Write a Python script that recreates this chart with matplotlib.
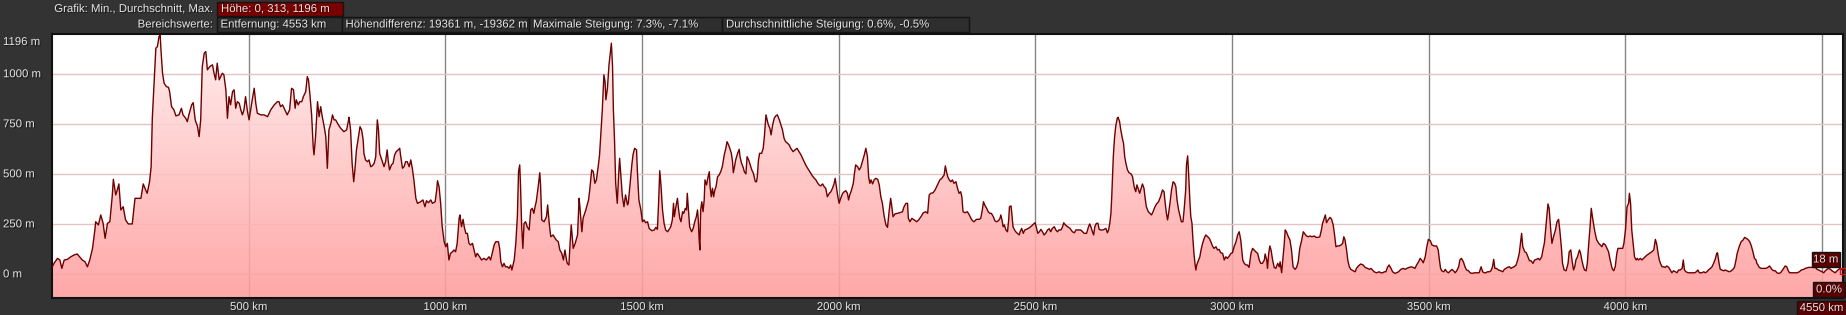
import matplotlib.pyplot as plt
import matplotlib.transforms as mtransforms
import matplotlib.patheffects as pe
from matplotlib.patches import Rectangle
import numpy as np

# elevation profile (km, m) in six pieces
profile_0_750 = [(0,35),(5,55),(14,80),(20,72),(25,30),(31,72),(39,75),(48,88),(56,97),(64,102),(70,88),(77,72),(84,63),(90,38),(96,72),(103,130),(109,222),(111,263),(118,247),(124,297),(130,255),(135,180),(141,255),(147,263),(153,388),(156,475),(162,397),(166,422),(170,452),(175,322),(181,338),(187,272),(194,252),(204,252),(211,380),(217,380),(226,380),(232,452),(238,422),(242,405),(248,463),(252,538),(255,780),(259,938),(264,1130),(268,1138),(272,1188),(275,1196),(277,1122),(281,1005),(285,955),(291,938),(296,935),(299,913),(304,838),(310,822),(315,792),(323,797),(329,830),(333,797),(340,780),(344,763),(348,797),(355,847),(359,858),(364,772),(370,738),(374,688),(378,772),(382,1038),(387,1105),(391,1113),(395,1022),(401,1038),(408,1047),(412,1005),(416,972),(420,1055),(425,972),(429,988),(433,1005),(437,997),(442,922),(446,780),(450,888),(454,847),(459,913),(463,922),(467,830),(471,863),(476,855),(480,822),(484,797),(488,822),(492,888),(497,813),(501,772),(505,822),(509,872),(514,930),(518,855),(522,805),(531,797),(539,797),(548,788),(556,822),(565,847),(573,863),(577,863),(581,838),(586,847),(590,830),(594,813),(598,797),(604,822),(609,930),(614,922),(618,830),(621,872),(626,847),(630,863),(635,863),(639,888),(645,913),(649,988),(652,972),(655,913),(660,797),(664,638),(666,597),(670,688),(675,863),(679,788),(683,838),(687,788),(692,738),(696,688),(700,530),(704,722),(709,755),(713,797),(717,772),(721,772),(728,747),(734,730),(742,713),(749,722),(754,772)]

profile_750_1520 = [(755,785),(759,722),(763,555),(767,463),(770,522),(774,622),(779,688),(783,738),(787,722),(791,672),(793,605),(797,572),(802,563),(806,572),(810,538),(814,542),(819,555),(823,588),(825,688),(827,772),(830,722),(833,605),(837,580),(841,555),(844,538),(848,563),(852,622),(855,563),(858,522),(863,547),(867,555),(871,597),(875,613),(880,622),(884,630),(886,597),(891,530),(895,538),(899,563),(903,563),(908,538),(912,572),(916,530),(920,472),(925,380),(929,355),(937,363),(943,372),(948,338),(952,368),(957,358),(963,372),(967,355),(974,363),(978,422),(980,468),(984,438),(988,355),(992,238),(997,163),(1001,138),(1005,155),(1009,72),(1013,105),(1018,113),(1022,122),(1026,113),(1030,155),(1035,280),(1037,297),(1041,238),(1045,275),(1048,238),(1052,205),(1056,205),(1060,155),(1064,147),(1069,155),(1073,122),(1077,88),(1081,105),(1087,88),(1092,72),(1098,80),(1104,72),(1111,88),(1115,72),(1119,105),(1124,147),(1128,163),(1135,163),(1138,130),(1141,63),(1145,38),(1149,55),(1153,38),(1158,38),(1162,30),(1166,47),(1169,22),(1172,47),(1175,72),(1179,155),(1183,288),(1186,513),(1189,547),(1191,447),(1194,238),(1197,130),(1200,255),(1204,263),(1208,238),(1213,222),(1217,322),(1221,330),(1225,305),(1228,338),(1231,363),(1236,438),(1240,508),(1242,447),(1245,272),(1251,263),(1257,288),(1260,347),(1264,255),(1268,188),(1274,197),(1279,180),(1282,172),(1287,163),(1291,122),(1296,105),(1300,72),(1304,122),(1308,72),(1310,55),(1314,47),(1317,155),(1320,247),(1325,130),(1330,155),(1336,197),(1340,380),(1342,338),(1347,213),(1350,280),(1357,322),(1364,372),(1367,422),(1372,522),(1376,513),(1380,455),(1384,472),(1389,547),(1392,597),(1396,722),(1399,822),(1403,997),(1406,963),(1408,872),(1412,930),(1416,1047),(1420,1122),(1422,1155),(1425,1038),(1427,830),(1430,672),(1433,455),(1437,355),(1440,480),(1443,580),(1446,497),(1450,388),(1454,338),(1458,397),(1463,347),(1465,355),(1469,438),(1474,547),(1477,597),(1481,630),(1486,622),(1488,522),(1492,372),(1497,322),(1501,263),(1505,272),(1509,258),(1514,263)]

profile_1520_2280 = [(1518,230),(1525,218),(1531,222),(1535,235),(1539,225),(1542,355),(1545,518),(1548,447),(1552,322),(1556,255),(1560,222),(1565,213),(1569,225),(1573,238),(1577,272),(1580,355),(1582,288),(1586,338),(1590,380),(1593,322),(1596,280),(1599,263),(1603,313),(1606,305),(1610,330),(1613,322),(1615,405),(1618,322),(1621,238),(1626,213),(1630,230),(1634,263),(1638,288),(1641,322),(1643,272),(1645,180),(1647,122),(1649,322),(1652,363),(1655,313),(1658,372),(1660,472),(1664,447),(1667,480),(1671,513),(1673,438),(1676,388),(1679,430),(1682,388),(1685,422),(1688,438),(1692,488),(1696,497),(1700,513),(1704,538),(1709,597),(1713,630),(1716,663),(1720,647),(1723,630),(1727,605),(1730,563),(1732,508),(1735,538),(1738,572),(1743,605),(1747,625),(1749,588),(1753,555),(1757,535),(1760,513),(1764,502),(1767,588),(1771,572),(1775,547),(1779,522),(1783,505),(1788,463),(1791,463),(1793,488),(1796,572),(1799,605),(1804,605),(1808,630),(1811,688),(1815,797),(1818,772),(1821,747),(1825,730),(1828,697),(1832,747),(1836,780),(1840,792),(1844,797),(1849,772),(1853,747),(1857,722),(1861,680),(1865,663),(1870,655),(1874,647),(1878,630),(1884,613),(1889,622),(1894,630),(1899,613),(1904,597),(1908,580),(1912,563),(1916,547),(1921,530),(1925,518),(1929,505),(1933,492),(1938,480),(1942,472),(1946,458),(1950,447),(1954,442),(1959,452),(1963,438),(1967,430),(1971,388),(1976,405),(1980,413),(1984,430),(1988,452),(1991,480),(1994,438),(1997,397),(2001,355),(2005,380),(2010,405),(2014,413),(2018,418),(2022,405),(2025,372),(2028,397),(2032,418),(2037,455),(2040,505),(2043,547),(2048,538),(2052,522),(2056,535),(2060,563),(2065,597),(2069,630),(2073,588),(2076,488),(2079,455),(2082,472),(2086,452),(2090,472),(2094,480),(2099,475),(2103,447),(2107,388),(2111,355),(2115,297),(2120,247),(2124,235),(2128,313),(2132,380),(2135,338),(2138,288),(2143,302),(2149,305),(2155,308),(2162,313),(2166,338),(2171,355),(2175,355),(2177,280),(2181,263),(2186,280),(2192,272),(2198,263),(2203,272),(2209,288),(2215,308),(2221,313),(2226,305),(2230,397),(2234,405),(2240,408),(2245,422),(2251,447),(2257,472),(2262,480),(2268,497),(2271,542),(2274,513),(2277,488)]

profile_2280_3040 = [(2281,472),(2285,463),(2289,472),(2293,455),(2298,463),(2302,430),(2306,405),(2310,413),(2313,388),(2316,313),(2321,308),(2327,313),(2332,297),(2336,280),(2340,268),(2344,263),(2350,275),(2357,275),(2361,280),(2365,322),(2368,363),(2371,347),(2376,330),(2380,313),(2384,305),(2388,305),(2393,288),(2397,268),(2401,263),(2406,268),(2410,280),(2412,297),(2415,272),(2418,238),(2421,247),(2425,222),(2429,213),(2432,272),(2434,338),(2438,342),(2440,305),(2443,238),(2447,222),(2450,213),(2454,205),(2459,197),(2461,213),(2465,230),(2469,205),(2473,222),(2477,225),(2482,230),(2488,238),(2493,247),(2497,255),(2499,258),(2503,230),(2506,205),(2510,213),(2514,225),(2518,213),(2522,197),(2526,205),(2531,222),(2535,228),(2539,213),(2543,230),(2548,238),(2552,222),(2556,213),(2560,222),(2565,222),(2569,238),(2572,258),(2576,247),(2582,238),(2588,230),(2594,213),(2599,208),(2603,222),(2610,222),(2615,222),(2620,213),(2624,205),(2630,205),(2635,238),(2638,252),(2641,238),(2645,213),(2648,197),(2651,238),(2655,255),(2659,255),(2662,225),(2666,222),(2671,222),(2675,225),(2679,230),(2683,208),(2686,222),(2689,255),(2692,305),(2694,388),(2698,588),(2701,680),(2704,738),(2708,780),(2710,785),(2714,763),(2717,722),(2721,680),(2724,655),(2727,588),(2730,555),(2734,522),(2738,508),(2743,502),(2747,488),(2751,438),(2755,413),(2758,447),(2761,430),(2765,405),(2768,425),(2772,452),(2776,430),(2779,380),(2782,338),(2787,313),(2791,305),(2795,297),(2799,313),(2804,338),(2808,352),(2813,363),(2818,388),(2823,422),(2827,413),(2829,372),(2833,305),(2836,272),(2838,297),(2842,355),(2846,422),(2850,463),(2854,455),(2857,438),(2860,372),(2864,322),(2868,288),(2871,263),(2875,263),(2878,322),(2882,422),(2884,547),(2887,592),(2889,522),(2893,355),(2895,288),(2898,255),(2900,188),(2903,105),(2906,47),(2908,22),(2910,47),(2915,72),(2918,88),(2921,122),(2925,155),(2929,180),(2933,197),(2938,188),(2942,180),(2946,163),(2950,142),(2954,130),(2959,138),(2963,122),(2967,125),(2971,108),(2976,105),(2980,72),(2984,88),(2988,80),(2993,92),(2997,105),(3001,108),(3005,138),(3010,163),(3014,197),(3018,213),(3022,172),(3027,72),(3031,55),(3035,47),(3039,47),(3043,35)]

profile_3040_3800 = [(3044,47),(3048,105),(3052,130),(3056,122),(3060,113),(3065,105),(3069,72),(3073,55),(3077,55),(3082,72),(3084,102),(3088,72),(3090,30),(3093,105),(3096,142),(3099,122),(3103,72),(3107,35),(3111,30),(3116,55),(3120,38),(3122,63),(3126,8),(3128,55),(3132,138),(3135,222),(3138,213),(3143,188),(3147,172),(3151,122),(3155,38),(3160,25),(3164,35),(3168,63),(3172,130),(3177,172),(3181,213),(3185,202),(3189,192),(3194,188),(3198,192),(3203,188),(3209,192),(3213,185),(3219,185),(3223,188),(3227,222),(3230,255),(3234,280),(3237,297),(3240,258),(3244,272),(3249,285),(3253,275),(3257,247),(3260,205),(3264,138),(3268,142),(3272,142),(3277,147),(3281,155),(3284,188),(3287,172),(3291,122),(3294,72),(3298,38),(3302,25),(3308,18),(3313,13),(3316,30),(3321,42),(3327,52),(3333,47),(3338,35),(3344,30),(3349,25),(3353,30),(3357,22),(3361,13),(3367,8),(3374,13),(3378,8),(3383,8),(3387,13),(3391,13),(3395,35),(3399,47),(3404,30),(3408,13),(3414,5),(3418,8),(3423,13),(3429,25),(3435,30),(3440,25),(3444,30),(3450,35),(3456,38),(3460,35),(3465,30),(3469,47),(3474,63),(3478,80),(3483,68),(3486,58),(3491,88),(3495,138),(3499,175),(3504,168),(3508,147),(3514,142),(3520,142),(3524,122),(3527,72),(3530,30),(3533,18),(3538,13),(3542,25),(3546,13),(3550,8),(3555,18),(3559,25),(3563,18),(3567,8),(3571,18),(3576,38),(3579,72),(3583,80),(3588,63),(3592,38),(3596,22),(3601,18),(3605,8),(3610,5),(3616,8),(3621,8),(3628,8),(3633,38),(3637,13),(3641,8),(3645,8),(3649,13),(3654,13),(3658,18),(3662,38),(3665,75),(3668,30),(3672,30),(3677,22),(3683,18),(3688,13),(3692,25),(3696,30),(3700,35),(3705,38),(3709,30),(3713,35),(3717,38),(3722,47),(3726,72),(3730,105),(3733,155),(3736,205),(3739,138),(3744,113),(3748,108),(3752,88),(3756,68),(3760,68),(3765,55),(3769,72),(3774,75),(3778,80),(3782,72),(3787,88),(3791,130),(3794,158)]

profile_3800_4553 = [(3800,288),(3803,352),(3806,330),(3810,222),(3813,155),(3817,188),(3822,222),(3826,263),(3830,275),(3833,222),(3837,138),(3840,55),(3844,22),(3849,18),(3854,55),(3857,113),(3861,122),(3864,72),(3868,22),(3871,38),(3874,72),(3878,88),(3883,122),(3886,105),(3889,72),(3893,38),(3896,22),(3900,18),(3903,55),(3906,138),(3910,238),(3913,330),(3916,288),(3920,238),(3923,205),(3927,172),(3932,155),(3936,147),(3940,138),(3944,155),(3949,147),(3953,130),(3957,113),(3961,72),(3966,30),(3970,18),(3974,38),(3978,105),(3981,130),(3987,130),(3993,130),(3996,155),(4000,222),(4004,338),(4008,355),(4010,405),(4013,355),(4016,222),(4020,147),(4023,88),(4027,72),(4030,80),(4033,72),(4038,80),(4042,72),(4046,80),(4050,88),(4055,97),(4059,102),(4063,108),(4067,113),(4072,122),(4076,175),(4079,155),(4083,105),(4086,72),(4089,55),(4093,38),(4097,38),(4101,35),(4105,42),(4110,35),(4114,22),(4118,8),(4122,18),(4127,13),(4131,8),(4135,22),(4139,22),(4144,30),(4147,72),(4150,22),(4154,13),(4159,8),(4165,8),(4171,8),(4176,8),(4180,13),(4184,22),(4188,8),(4194,8),(4199,13),(4203,8),(4207,13),(4211,22),(4216,30),(4220,38),(4224,55),(4228,75),(4232,105),(4234,108),(4238,55),(4241,25),(4245,22),(4250,18),(4254,22),(4258,18),(4264,13),(4269,18),(4273,25),(4277,35),(4281,72),(4284,105),(4289,138),(4294,163),(4299,172),(4303,185),(4307,180),(4311,175),(4316,163),(4320,142),(4324,113),(4328,80),(4332,72),(4334,55),(4337,47),(4340,35),(4345,30),(4351,30),(4357,30),(4362,35),(4366,42),(4369,35),(4372,25),(4377,18),(4381,18),(4385,8),(4389,5),(4394,8),(4398,18),(4402,30),(4406,42),(4410,38),(4413,22),(4417,8),(4423,8),(4430,8),(4436,8),(4442,13),(4447,22),(4453,25),(4457,30),(4466,35),(4472,35),(4478,35),(4483,35),(4487,25),(4491,22),(4495,18),(4500,13),(4504,8),(4508,18),(4512,25),(4516,30),(4521,25),(4525,18),(4529,13),(4533,8),(4538,18),(4542,25),(4546,30),(4550,25),(4553,18)]

y_ticks = [0, 250, 500, 750, 1000]
y_labels = ["0 m", "250 m", "500 m", "750 m", "1000 m"]
y_max_label = "1196 m"
x_ticks = [500, 1000, 1500, 2000, 2500, 3000, 3500, 4000]
x_labels = ["500 km", "1000 km", "1500 km", "2000 km", "2500 km", "3000 km", "3500 km", "4000 km"]
x_grid = [500, 1000, 1500, 2000, 2500, 3000, 3500, 4000, 4500]

header_title = "Grafik: Min., Durchschnitt, Max."
header_hoehe = "Höhe: 0, 313, 1196 m"
range_title = "Bereichswerte:"
range_boxes = ["Entfernung: 4553 km", "Höhendifferenz: 19361 m, -19362 m",
               "Maximale Steigung: 7.3%, -7.1%", "Durchschnittliche Steigung: 0.6%, -0.5%"]
end_elev_label = "18 m"
end_grade_label = "0.0%"
end_km_label = "4550 km"

W, H = 1846, 315
BG = "#333333"
TXT = "#e4e4e4"
FONT = "Liberation Sans"
FS = 8.2
SHADOW = [pe.SimplePatchShadow(offset=(0.8, -0.8), shadow_rgbFace="black", alpha=0.5),
          pe.Normal()]

segments = [profile_0_750, profile_750_1520, profile_1520_2280,
            profile_2280_3040, profile_3040_3800, profile_3800_4553]
km = np.array([p[0] for seg in segments for p in seg], dtype=float)
elev = np.array([p[1] for seg in segments for p in seg], dtype=float)

fig = plt.figure(figsize=(W / 100, H / 100), dpi=100, facecolor=BG)


def fx(x):
    return x / W


def fy(y):
    return 1 - y / H


def label(x, y, s, **kw):
    kw.setdefault("color", TXT)
    kw.setdefault("va", "center")
    return fig.text(x, y, s, fontsize=FS, family=FONT, path_effects=SHADOW, **kw)


ax = fig.add_axes([fx(52), fy(298), (1843 - 52) / W, (298 - 34) / H])
ymin, ymax = -118, 1201
xmax = 4553
ax.set_facecolor("white")

# grid lines go under the (slightly see-through) fill
ax.vlines(x_grid, ymin, ymax, color="#858585", lw=1.0, zorder=1)
ax.hlines(y_ticks, 0, xmax, color="#e6c3c3", lw=1.0, zorder=1)

# gradient fill under the profile
n = 256
top = np.array([255, 236, 236]) / 255
bot = np.array([255, 156, 156]) / 255
t = np.linspace(0, 1, n)[:, None]
grad = np.zeros((n, 1, 4))
grad[:, 0, :3] = bot + (top - bot) * t
grad[:, 0, 3] = 0.88
poly = ax.fill_between(km, elev, ymin, facecolor="none", edgecolor="none")
im = ax.imshow(grad, extent=[0, xmax, ymin, ymax], origin="lower",
               aspect="auto", interpolation="bilinear", zorder=2)
im.set_clip_path(poly.get_paths()[0], transform=ax.transData)

ax.plot(km, elev, color="#6e0000", lw=1.0, zorder=4)
ax.plot([km[-1]], [elev[-1]], marker="s", ms=5, mfc="none", mec="#e01010",
        mew=1.0, zorder=5, clip_on=False)

ax.set_xlim(0, xmax)
ax.set_ylim(ymin, ymax)
ax.set_xticks([])
ax.set_yticks([])
for s in ax.spines.values():
    s.set_color("#101010")
    s.set_linewidth(1.5)

# axis labels
ytrans = mtransforms.blended_transform_factory(fig.transFigure, ax.transData)
for v, lab in zip(y_ticks, y_labels):
    label(fx(3), v, lab, transform=ytrans, ha="left")
label(fx(3), fy(42), y_max_label, ha="left")

xtrans = mtransforms.blended_transform_factory(ax.transData, fig.transFigure)
for v, lab in zip(x_ticks, x_labels):
    label(v, fy(307), lab, transform=xtrans, ha="center")


def box(x0, y0, x1, y1, fc, ec="#141414"):
    fig.patches.append(Rectangle((fx(x0), fy(y1)), (x1 - x0) / W, (y1 - y0) / H,
                                 transform=fig.transFigure, facecolor=fc,
                                 edgecolor=ec, lw=1.0, zorder=3))


# header rows
label(fx(213), fy(9), header_title, ha="right")
box(216.5, 2, 343, 16, "#7a0000")
label(fx(221), fy(9), header_hoehe, ha="left", zorder=4)

label(fx(213), fy(24.5), range_title, ha="right")
edges = [216.5, 341.5, 529, 722, 969]
for i, lab in enumerate(range_boxes):
    box(edges[i], 17, edges[i + 1], 32, "#2e2e2e")
    label(fx(edges[i] + 4), fy(24.5), lab, ha="left", zorder=4)

# end markers on the right
box(1811.5, 252, 1840, 267, "#5c0000")
label(fx(1825.7), fy(259.5), end_elev_label, ha="center", zorder=4)
box(1813, 282, 1845, 297, "#5c0000")
label(fx(1829), fy(289.5), end_grade_label, ha="center", zorder=4)
box(1797, 301, 1846, 315, "#5c0000")
label(fx(1821.5), fy(308), end_km_label, ha="center", zorder=4)

fig.savefig("out.png", dpi=100, facecolor=BG)
